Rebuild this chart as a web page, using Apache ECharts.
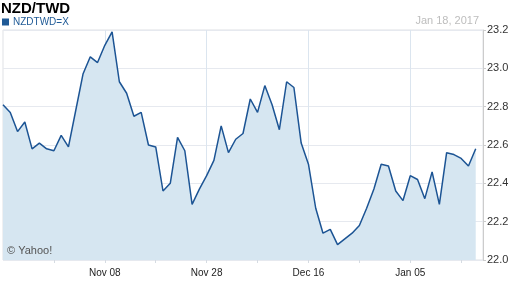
<!DOCTYPE html>
<html>
<head>
<meta charset="utf-8">
<script src="https://cdn.jsdelivr.net/npm/echarts@6/dist/echarts.min.js"></script>
<style>
html,body{margin:0;padding:0;background:#fff;}
#c{width:512px;height:288px;}
</style>
</head>
<body>
<div id="c"></div>
<script>
var dates = [
"Oct 19","Oct 20","Oct 21","Oct 24","Oct 25","Oct 26","Oct 27","Oct 28","Oct 31",
"Nov 01","Nov 02","Nov 03","Nov 04","Nov 07","Nov 08","Nov 09","Nov 10","Nov 11","Nov 14","Nov 15","Nov 16","Nov 17","Nov 18","Nov 21","Nov 22","Nov 23","Nov 24","Nov 25","Nov 28","Nov 29","Nov 30",
"Dec 01","Dec 02","Dec 05","Dec 06","Dec 07","Dec 08","Dec 09","Dec 12","Dec 13","Dec 14","Dec 15","Dec 16","Dec 19","Dec 20","Dec 21","Dec 22","Dec 23","Dec 26","Dec 27","Dec 28","Dec 29","Dec 30",
"Jan 02","Jan 03","Jan 04","Jan 05","Jan 06","Jan 09","Jan 10","Jan 11","Jan 12","Jan 13","Jan 16","Jan 17","Jan 18","Jan 19"
];
var values = [
22.81, 22.77, 22.67, 22.72, 22.58, 22.61, 22.58, 22.57, 22.65, 22.59,
22.78, 22.97, 23.06, 23.03, 23.12, 23.19, 22.93, 22.87, 22.75, 22.77,
22.60, 22.59, 22.36, 22.40, 22.64, 22.57, 22.29, 22.37, 22.44, 22.52,
22.70, 22.56, 22.63, 22.66, 22.84, 22.77, 22.91, 22.81, 22.68, 22.93,
22.90, 22.61, 22.50, 22.27, 22.14, 22.16, 22.08, 22.11, 22.14, 22.18,
22.27, 22.37, 22.50, 22.49, 22.36, 22.31, 22.44, 22.42, 22.32, 22.46,
22.29, 22.56, 22.55, 22.53, 22.49, 22.58, null
];
var labeledDates = ["Nov 08","Nov 28","Dec 16","Jan 05"];
var tickDates = ["Oct 28","Nov 08","Nov 17","Nov 28","Dec 07","Dec 16","Dec 27","Jan 05","Jan 16"];
var yTicks = [22.0, 22.2, 22.4, 22.6, 22.8, 23.0, 23.2];
var titleText = "NZD/TWD";
var seriesName = "NZDTWD=X";
var dateText = "Jan 18, 2017";
var creditText = "\u00a9 Yahoo!";

var chart = echarts.init(document.getElementById('c'), null, {renderer:'canvas'});
var font = "'Liberation Sans', Arial, sans-serif";
chart.setOption({
  animation:false,
  backgroundColor:'#fff',
  title:{text:titleText,left:1,top:1,padding:0,textStyle:{fontFamily:font,fontSize:15,fontWeight:'bold',color:'#000'}},
  legend:{left:2,top:17,padding:0,itemWidth:7,itemHeight:7,itemGap:4,icon:'rect',
    data:[{name:seriesName,icon:'rect'}],
    textStyle:{fontFamily:font,fontSize:10,color:'#1f5a96',padding:[0,0,0,-1]}},
  grid:{left:3,right:29,top:30,bottom:28,show:true,borderColor:'#dfe1e5',borderWidth:1},
  xAxis:{type:'category',data:dates,boundaryGap:false,
    axisLine:{show:false},
    axisTick:{show:true,length:3,lineStyle:{color:'#d5dbe2'},interval:function(i,v){return tickDates.indexOf(v)>=0;}},
    axisLabel:{fontFamily:font,fontSize:10,color:'#222',margin:8,interval:function(i,v){return labeledDates.indexOf(v)>=0;}},
    splitLine:{show:true,lineStyle:{color:'#dbe5ef',width:1},interval:function(i,v){return labeledDates.indexOf(v)>=0;}}
  },
  yAxis:{type:'value',position:'right',min:yTicks[0],max:yTicks[yTicks.length-1],interval:0.2,
    axisLine:{show:true,lineStyle:{color:'#ccc'}},
    axisTick:{show:true,length:3,lineStyle:{color:'#ccc'}},
    axisLabel:{fontFamily:font,fontSize:11,color:'#333',margin:4,formatter:function(v){return v.toFixed(1);}},
    splitLine:{show:true,lineStyle:{color:'#e6e9ef',width:1}}
  },
  graphic:[
    {type:'text',right:33,top:15,z:100,style:{text:dateText,font:'11px '+font,fill:'#bdbdbd'}},
    {type:'text',left:7,top:245,z:100,style:{text:creditText,font:'11px '+font,fill:'#555'}}
  ],
  series:[{name:seriesName,type:'line',data:values,symbol:'none',connectNulls:false,
    itemStyle:{color:'#1f5a96'},
    lineStyle:{color:'#1c5494',width:1.5},
    areaStyle:{color:'#d6e6f1',opacity:1},z:1}]
});
</script>
</body>
</html>
